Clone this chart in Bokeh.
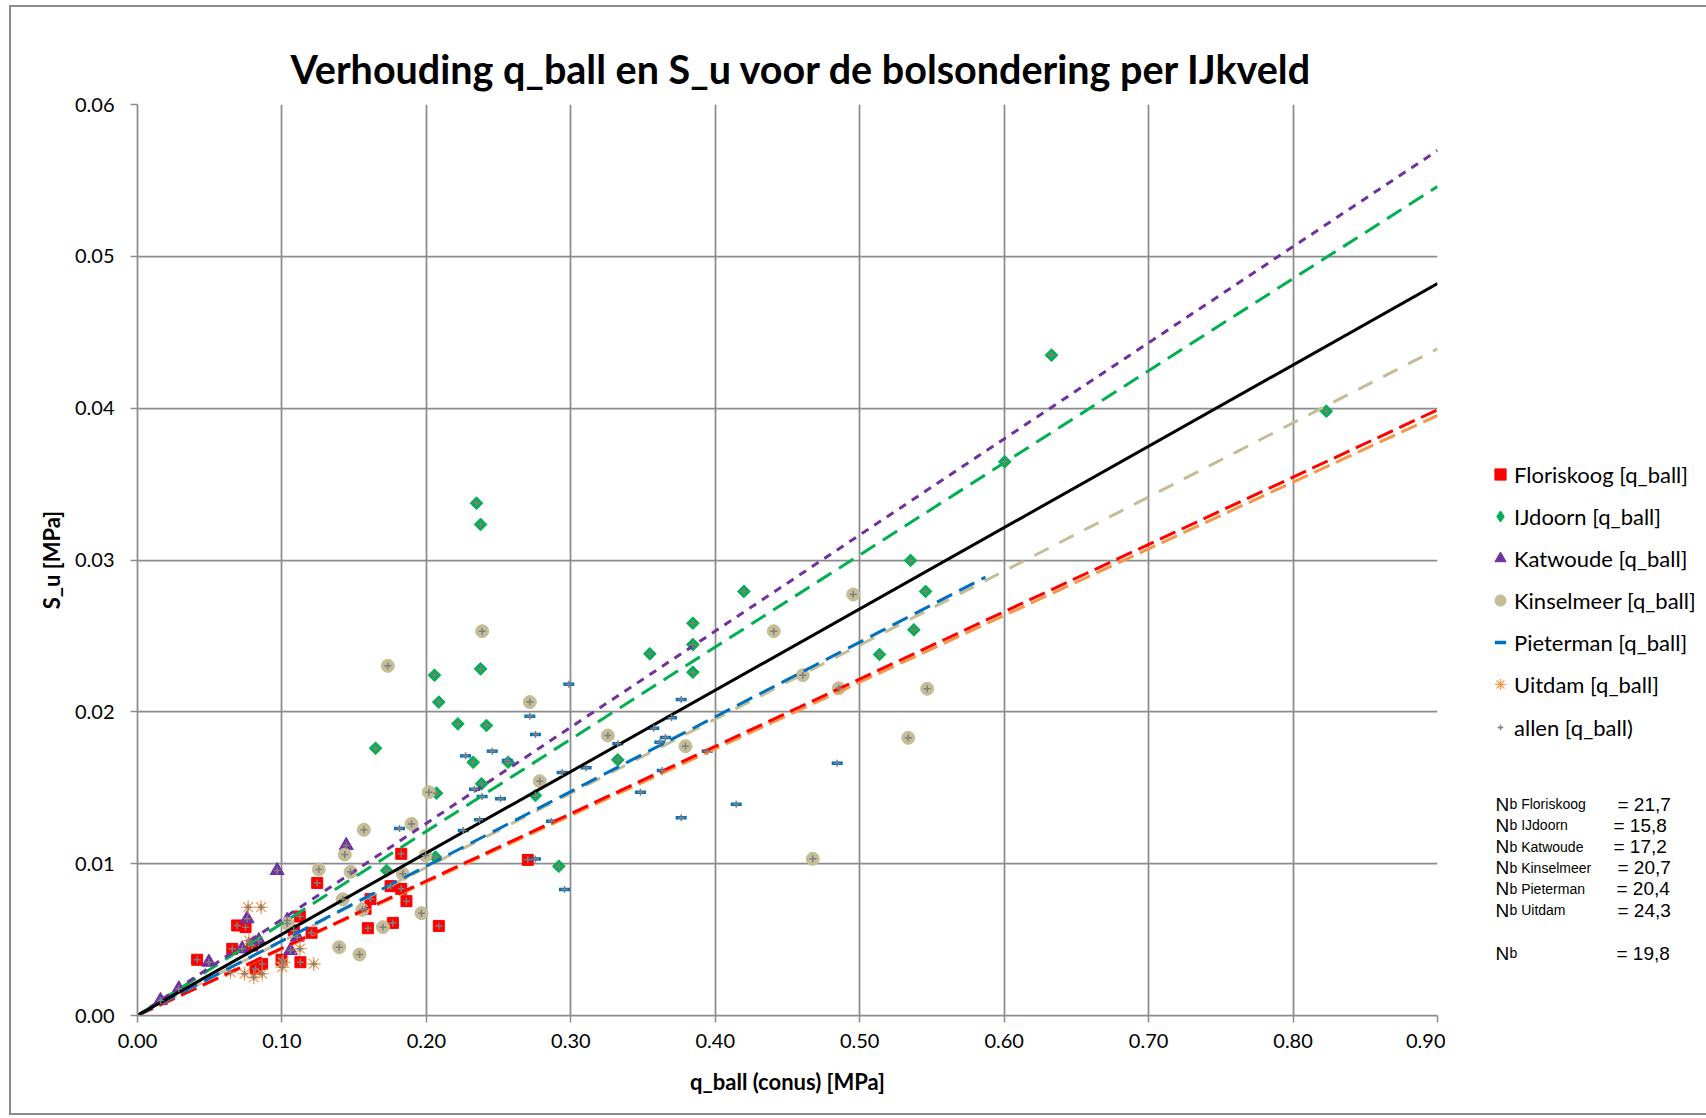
import math
from bokeh.plotting import figure
from bokeh.layouts import row
from bokeh.models import Legend, LegendItem, Label, FixedTicker, NumeralTickFormatter, Title
from bokeh.embed import file_html
from bokeh.resources import INLINE

# ---------------- data ----------------
series_names = ["Floriskoog", "IJdoorn", "Katwoude", "Kinselmeer", "Pieterman", "Uitdam"]

floriskoog_q = [0.0413, 0.0656, 0.069, 0.0748, 0.0794, 0.0817, 0.0863, 0.0997, 0.1082, 0.1128, 0.1124,
                0.1205, 0.1244, 0.1579, 0.1595, 0.1613, 0.1752, 0.1768, 0.1826, 0.1826, 0.1862, 0.2086, 0.2702]
floriskoog_su = [0.00367, 0.00439, 0.00593, 0.00582, 0.00461, 0.00307, 0.0034, 0.00367, 0.0056, 0.00351, 0.00652,
                 0.00545, 0.00873, 0.00703, 0.00575, 0.00768, 0.00852, 0.0061, 0.00834, 0.01065, 0.00753, 0.0059, 0.01025]

ijdoorn_q = [0.1648, 0.1724, 0.2056, 0.2063, 0.207, 0.2086, 0.2218, 0.2324, 0.2347, 0.2375, 0.2375, 0.2382,
             0.2416, 0.2566, 0.2755, 0.2917, 0.3325, 0.3547, 0.3845, 0.3845, 0.3845, 0.4198, 0.5137, 0.5352,
             0.5375, 0.5456, 0.6004, 0.6328, 0.823]
ijdoorn_su = [0.0176, 0.00955, 0.02241, 0.01043, 0.01464, 0.02064, 0.01921, 0.01668, 0.03374, 0.03234, 0.02283, 0.01526,
              0.0191, 0.01668, 0.01449, 0.00983, 0.01684, 0.02382, 0.02584, 0.02443, 0.02261, 0.02793, 0.02378, 0.02997,
              0.0254, 0.02793, 0.03647, 0.04349, 0.0398]

katwoude_q = [0.0159, 0.0286, 0.0494, 0.0725, 0.0759, 0.084, 0.0967, 0.1036, 0.1059, 0.1106, 0.1445]
katwoude_su = [0.00099, 0.00176, 0.00351, 0.00439, 0.00637, 0.00494, 0.00955, 0.00626, 0.00428, 0.00516, 0.0112]

kinselmeer_q = [0.1036, 0.1255, 0.1396, 0.1421, 0.1435, 0.1475, 0.1537, 0.1556, 0.1567, 0.1699, 0.1733, 0.1837,
                0.1897, 0.1966, 0.1994, 0.2017, 0.2386, 0.2716, 0.2785, 0.3256, 0.3794, 0.4405, 0.4606, 0.4675,
                0.4855, 0.4955, 0.5336, 0.5467]
kinselmeer_su = [0.00606, 0.00962, 0.0045, 0.00766, 0.0106, 0.00946, 0.00402, 0.00696, 0.01223, 0.00582, 0.02303, 0.00933,
                 0.01262, 0.00674, 0.01054, 0.01471, 0.02531, 0.02064, 0.01543, 0.01844, 0.01774, 0.02531, 0.02241, 0.01032,
                 0.02156, 0.02773, 0.01829, 0.02152]

pieterman_q = [0.1814, 0.2255, 0.2271, 0.2333, 0.2368, 0.2386, 0.2456, 0.2513, 0.256, 0.2716, 0.2755, 0.2755,
               0.2866, 0.294, 0.2956, 0.2986, 0.3106, 0.3325, 0.3482, 0.3574, 0.3616, 0.3633, 0.3655, 0.3697,
               0.3764, 0.3764, 0.3944, 0.4145, 0.4844]
pieterman_su = [0.01232, 0.01218, 0.0171, 0.0149, 0.0129, 0.01442, 0.01741, 0.01427, 0.0168, 0.01971, 0.01851, 0.0103,
                0.0128, 0.016, 0.0083, 0.02182, 0.01631, 0.0179, 0.01471, 0.01892, 0.018, 0.01614, 0.01831, 0.01961,
                0.02081, 0.01302, 0.01741, 0.01392, 0.01662]

uitdam_q = [0.0644, 0.0741, 0.0766, 0.0771, 0.0805, 0.0856, 0.0863, 0.1002, 0.1009, 0.1124, 0.122]
uitdam_su = [0.00285, 0.00275, 0.00713, 0.00494, 0.00252, 0.00713, 0.00275, 0.00318, 0.0035, 0.0044, 0.0034]

# trend lines through the origin (end points)
trend_names = ["Katwoude", "IJdoorn", "allen", "Kinselmeer", "Pieterman", "Floriskoog", "Uitdam"]
trend_q_end = [0.90, 0.90, 0.90, 0.90, 0.587, 0.90, 0.90]
trend_su_end = [0.05697, 0.0546, 0.0482, 0.04391, 0.02887, 0.03989, 0.03952]

nb_labels = ["Floriskoog", "IJdoorn", "Katwoude", "Kinselmeer", "Pieterman", "Uitdam"]
nb_values = ["21,7", "15,8", "17,2", "20,7", "20,4", "24,3"]
nb_total = "19,8"

x_ticks = [0.0, 0.1, 0.2, 0.3, 0.4, 0.5, 0.6, 0.7, 0.8, 0.9]
y_ticks = [0.0, 0.01, 0.02, 0.03, 0.04, 0.05, 0.06]

# ---------------- layout geometry (page pixels) ----------------
PAGE_W, PAGE_H = 1706, 1118
M_LEFT, M_TOP, BW = 9, 5, 2              # chart-area border position / width
CX0, CY0 = M_LEFT + BW, M_TOP + BW       # content origin on the page
CY1 = 1113                               # content bottom on the page
FL, FR, FT, FB = 137, 1437, 104, 1015    # plot frame edges on the page
MAIN_W = FR + 8 - CX0
SIDE_W = PAGE_W - M_LEFT - BW - MAIN_W
CH = CY1 - CY0

XMAX, YMAX = 0.9, 0.06
FONT = "Lato"
GRID = "#8c8c8c"

p = figure(width=MAIN_W, height=CH, x_range=(0, XMAX), y_range=(0, YMAX),
           min_border_left=FL - CX0, min_border_right=8, min_border_top=FT - CY0, min_border_bottom=CY1 - FB,
           output_backend="svg", toolbar_location=None, background_fill_color="white",
           border_fill_color="white", outline_line_color=None)

p.xgrid.ticker = FixedTicker(ticks=x_ticks)
p.ygrid.ticker = FixedTicker(ticks=y_ticks)
for g in (p.xgrid, p.ygrid):
    g.grid_line_color = GRID
    g.grid_line_width = 1.75

p.xaxis.ticker = FixedTicker(ticks=x_ticks)
p.yaxis.ticker = FixedTicker(ticks=y_ticks)
p.xaxis.formatter = NumeralTickFormatter(format="0.00")
p.yaxis.formatter = NumeralTickFormatter(format="0.00")
for ax in (p.xaxis, p.yaxis):
    ax.axis_line_color = GRID
    ax.axis_line_width = 1.75
    ax.major_tick_line_color = GRID
    ax.major_tick_line_width = 1.5
    ax.major_tick_out = 7
    ax.major_tick_in = 0
    ax.minor_tick_line_color = None
    ax.major_label_text_font = FONT
    ax.major_label_text_font_size = "20px"
    ax.major_label_text_color = "black"
    ax.axis_label_text_font = FONT
    ax.axis_label_text_font_style = "bold"
    ax.axis_label_text_font_size = "22px"
    ax.axis_label_text_color = "black"
p.xaxis.axis_label = "q_ball (conus) [MPa]"
p.yaxis.axis_label = "S_u [MPa]"
p.xaxis.major_label_standoff = 11
p.xaxis.axis_label_standoff = 17
p.yaxis.major_label_standoff = 16
p.yaxis.axis_label_standoff = 7

title = Title(text="Verhouding q_ball en S_u voor de bolsondering per IJkveld", align="left", offset=153,
              text_font=FONT, text_font_style="bold", text_font_size="39.5px", text_color="black", standoff=26)
p.add_layout(title, "above")

# ---------------- markers ----------------
RED, GREEN, PURPLE, TAN, BLUE, ORANGE, GRAY = "#FF0000", "#00B050", "#7030A0", "#C4BD97", "#0070C0", "#F79646", "#7f7f7f"
marker_style = {
    "Floriskoog": dict(marker="square", size=11, fill_color=RED, line_color=RED),
    "IJdoorn": dict(marker="square", angle=math.pi / 4, size=9, fill_color=GREEN, line_color=GREEN),
    "Katwoude": dict(marker="triangle", size=14, fill_color=PURPLE, line_color=PURPLE),
    "Kinselmeer": dict(marker="circle", size=13, fill_color=TAN, line_color=TAN),
    "Pieterman": dict(marker="dash", size=11, line_color=BLUE, line_width=3.5),
    "Uitdam": dict(marker="asterisk", size=14, line_color=ORANGE, line_width=1.2),
    "allen": dict(marker="cross", size=7, line_color=GRAY, line_width=1.5),
}
series_data = {
    "Floriskoog": (floriskoog_q, floriskoog_su),
    "IJdoorn": (ijdoorn_q, ijdoorn_su),
    "Katwoude": (katwoude_q, katwoude_su),
    "Kinselmeer": (kinselmeer_q, kinselmeer_su),
    "Pieterman": (pieterman_q, pieterman_su),
    "Uitdam": (uitdam_q, uitdam_su),
}
for nm in series_names:
    qv, sv = series_data[nm]
    p.scatter(qv, sv, **marker_style[nm])

# ---------------- trend lines ----------------
trend_style = {
    "Katwoude": (PURPLE, "8 7"),
    "IJdoorn": (GREEN, "17 9"),
    "allen": ("black", "solid"),
    "Kinselmeer": (TAN, "16 12"),
    "Pieterman": (BLUE, "17 8"),
    "Floriskoog": (RED, "17 7"),
    "Uitdam": (ORANGE, "17 7"),
}
draw_order = ["Uitdam", "Floriskoog", "Kinselmeer", "Pieterman", "IJdoorn", "Katwoude", "allen"]
for name in draw_order:
    i = trend_names.index(name)
    col, dash = trend_style[name]
    p.line([0, trend_q_end[i]], [0, trend_su_end[i]], line_color=col, line_dash=dash, line_width=3)

# all points ("allen") as small grey plus
all_q = floriskoog_q + ijdoorn_q + katwoude_q + kinselmeer_q + pieterman_q + uitdam_q
all_su = floriskoog_su + ijdoorn_su + katwoude_su + kinselmeer_su + pieterman_su + uitdam_su
p.scatter(all_q, all_su, **marker_style["allen"])

# ---------------- side panel: legend + Nb block ----------------
# The row layout aligns this panel's frame with the main frame (page y FT..FB),
# so its data coordinates are set equal to page pixels.
SX0 = CX0 + MAIN_W
p2 = figure(width=SIDE_W, height=CH, x_range=(SX0, SX0 + SIDE_W), y_range=(FB, FT),
            min_border_left=0, min_border_right=0, min_border_top=FT - CY0, min_border_bottom=CY1 - FB,
            output_backend="svg", toolbar_location=None, outline_line_color=None,
            background_fill_color="white", border_fill_color="white")
p2.axis.visible = False
p2.grid.visible = False

NAN = float("nan")
swatch = {}
for nm in series_names + ["allen"]:
    st = dict(marker_style[nm])
    if nm == "IJdoorn":          # legend swatches ignore angle: use a diamond marker
        st = dict(marker="diamond", fill_color=GREEN, line_color=GREEN)
    swatch[nm] = p2.scatter([NAN], [NAN], **st)   # legend swatch only

ROW1_Y, ROW_PITCH = 474.4, 42.07
GLYPH_CX = 1500
TEXT_X = 1514
legend_common = dict(orientation="vertical", padding=0, margin=0,
                     label_text_font=FONT, label_text_font_size="22px", label_text_color="black",
                     label_text_baseline="middle", background_fill_alpha=0, border_line_color=None)

# six site series (marker swatch ~11 px)
G = 28
GAP = int(round(ROW_PITCH - G))
n6 = len(series_names)
leg_h = n6 * G + (n6 - 1) * GAP
top = ROW1_Y - G / 2
legend = Legend(items=[LegendItem(label=nm + " [q_ball]", renderers=[swatch[nm]]) for nm in series_names],
                location=(int(round(GLYPH_CX - G / 2 - SX0)), int(round(FB - (top + leg_h)))), spacing=GAP,
                glyph_width=G, glyph_height=G, label_height=G,
                label_standoff=int(TEXT_X - (GLYPH_CX + G // 2)),
                **legend_common)
p2.add_layout(legend, "center")

# "allen" entry with a smaller swatch
GW2, GH2 = 14, 28
y_allen = ROW1_Y + n6 * ROW_PITCH
legend2 = Legend(items=[LegendItem(label="allen [q_ball)", renderers=[swatch["allen"]])],
                 location=(int(round(GLYPH_CX - GW2 / 2 - SX0)), int(round(FB - (y_allen + GH2 / 2)))),
                 glyph_width=GW2, glyph_height=GH2, label_height=GH2,
                 label_standoff=int(TEXT_X - (GLYPH_CX + GW2 // 2)),
                 **legend_common)
p2.add_layout(legend2, "center")

NBF = "Liberation Sans"
baselines = [803.5, 824.5, 846, 867, 888, 909.5]
eq_x = [1617, 1613, 1613, 1617, 1616, 1617]


def nb_row(yb, sub, eqx, val):
    p2.add_layout(Label(x=1495, y=yb, text="N", text_font=NBF, text_font_size="19px",
                        text_baseline="alphabetic", text_color="black"))
    p2.add_layout(Label(x=1509, y=yb, text=sub, text_font=NBF, text_font_size="14px",
                        text_baseline="alphabetic", text_color="black"))
    p2.add_layout(Label(x=eqx, y=yb, text="= " + val, text_font=NBF, text_font_size="19px",
                        text_baseline="alphabetic", text_color="black"))


for i, nm in enumerate(nb_labels):
    nb_row(baselines[i], "b " + nm, eq_x[i], nb_values[i])
nb_row(952.5, "b", 1616, nb_total)

border = "%dpx solid #8c8c8c" % BW
layout = row(p, p2, margin=(M_TOP, 0, 0, M_LEFT),
             styles={"border-left": border, "border-top": border, "border-bottom": border})

open("out.html", "w").write(file_html(layout, INLINE))
